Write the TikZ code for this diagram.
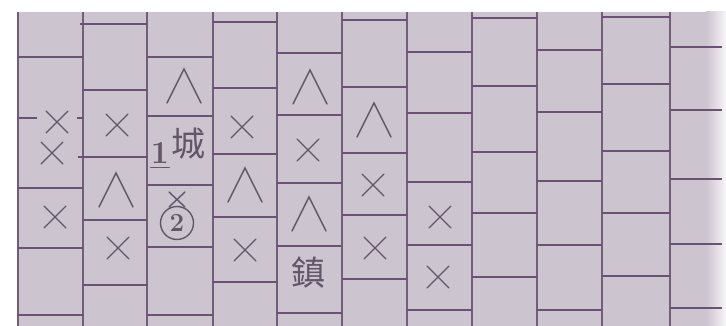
\documentclass[tikz,border=0pt]{standalone}
\usepackage{fontspec}
\newfontfamily\cjk{Noto Sans CJK TC}
\usepackage{xcolor}
\definecolor{wallgrey}{RGB}{204,196,207}
\definecolor{joint}{RGB}{108,80,118}
\definecolor{pencil}{RGB}{98,86,104}

\begin{document}
\begin{tikzpicture}[x=1pt,y=-1pt,
  vjoint/.style={line width=1.2pt, color=joint!70!gray},
  hjoint/.style={line width=2pt, color=joint},
  sign/.style={line width=1.4pt, color=pencil, line cap=round},
  cjkmark/.style={inner sep=0pt, text=pencil, font=\cjk\fontsize{34}{34}\selectfont}]
\def\H{11} % half size of a cross
\def\W{17} % half width of a hat
\def\T{34} % height of a hat
\def\crs#1#2{\draw[sign] (#1-\H,#2-\H) -- (#1+\H,#2+\H) (#1-\H,#2+\H) -- (#1+\H,#2-\H);}
\def\peak#1#2{\draw[sign] (#1-\W,#2+\T) -- (#1,#2) -- (#1+\W,#2+\T);}

\useasboundingbox (0,0) rectangle (726,326);
\fill[white] (0,0) rectangle (726,326);
\fill[wallgrey] (18,12) rectangle (722,326);
\shade[left color=wallgrey, right color=white!85!wallgrey] (706,12) rectangle (726,326);

%vertical joints
\draw[vjoint] (18,12) -- (18,326) (83,12) -- (83,326) (147,12) -- (147,326)
  (213,12) -- (213,326) (277,12) -- (277,326) (342,12) -- (342,326)
  (407,12) -- (407,326) (472,12) -- (472,326) (537,12) -- (537,326)
  (602,12) -- (602,326) (670,12) -- (670,326);

%horizontal joints, column by column
\draw[hjoint] (18,57) -- (83,57) (18,118) -- (37,118) (77,118) -- (83,118) (18,188) -- (83,188) (18,248) -- (83,248) (18,315) -- (83,315);
\draw[hjoint] (80,24) -- (147,24) (83,90) -- (147,90) (78,157) -- (147,157) (83,220) -- (147,220) (83,285) -- (147,285);
\draw[hjoint] (147,57) -- (213,57) (147,116) -- (213,116) (147,185) -- (213,185) (147,247) -- (213,247) (147,315) -- (213,315);
\draw[hjoint] (213,22) -- (277,22) (213,88) -- (277,88) (213,154) -- (277,154) (213,217) -- (277,217) (213,282) -- (277,282);
\draw[hjoint] (277,53) -- (342,53) (277,115) -- (342,115) (277,183) -- (342,183) (277,246) -- (342,246) (277,313) -- (342,313);
\draw[hjoint] (342,20) -- (407,20) (342,87) -- (407,87) (342,153) -- (407,153) (342,215) -- (407,215) (342,279) -- (407,279);
\draw[hjoint] (407,52) -- (472,52) (407,113) -- (472,113) (407,182) -- (472,182) (407,245) -- (472,245) (407,310) -- (472,310);
\draw[hjoint] (472,18) -- (537,18) (472,86) -- (537,86) (472,152) -- (537,152) (472,213) -- (537,213) (472,277) -- (537,277);
\draw[hjoint] (537,50) -- (602,50) (537,112) -- (602,112) (537,181) -- (602,181) (537,245) -- (602,245) (537,310) -- (602,310);
\draw[hjoint] (602,17) -- (670,17) (602,84) -- (670,84) (602,151) -- (670,151) (602,213) -- (670,213) (602,276) -- (670,276);
\draw[hjoint] (670,47) -- (722,47) (670,110) -- (722,110) (670,179) -- (722,179) (670,244) -- (722,244) (670,308) -- (722,308);

%marks
\crs{57}{122} \crs{52}{153} \crs{55}{217}
\crs{117}{125} \peak{116}{173} \crs{118}{248}
\peak{184}{69}
\draw[sign] (169,192) -- (185,207) (185,192) -- (169,207);
\crs{242}{127} \peak{245}{168} \crs{245}{250}
\peak{310}{70} \crs{308}{150} \peak{309}{197}
\peak{374}{103} \crs{373}{185} \crs{375}{248}
\crs{440}{217} \crs{438}{277}

%labels
\node[cjkmark] (cheng) at (188,144) {城};
\node[cjkmark] (zhen) at (308,273) {鎮};
\node[inner sep=0pt, text=pencil, font=\bfseries\fontsize{32}{32}\selectfont] (one) at (160,153) {1};
\draw[sign] ([yshift=-4pt]one.south west) -- ([yshift=-4pt]one.south east);
\node[circle, draw=pencil, line width=1.4pt, minimum size=33pt, inner sep=0pt, text=pencil,
  font=\bfseries\fontsize{26}{26}\selectfont] (two) at (177,223) {2};
\end{tikzpicture}
\end{document}
